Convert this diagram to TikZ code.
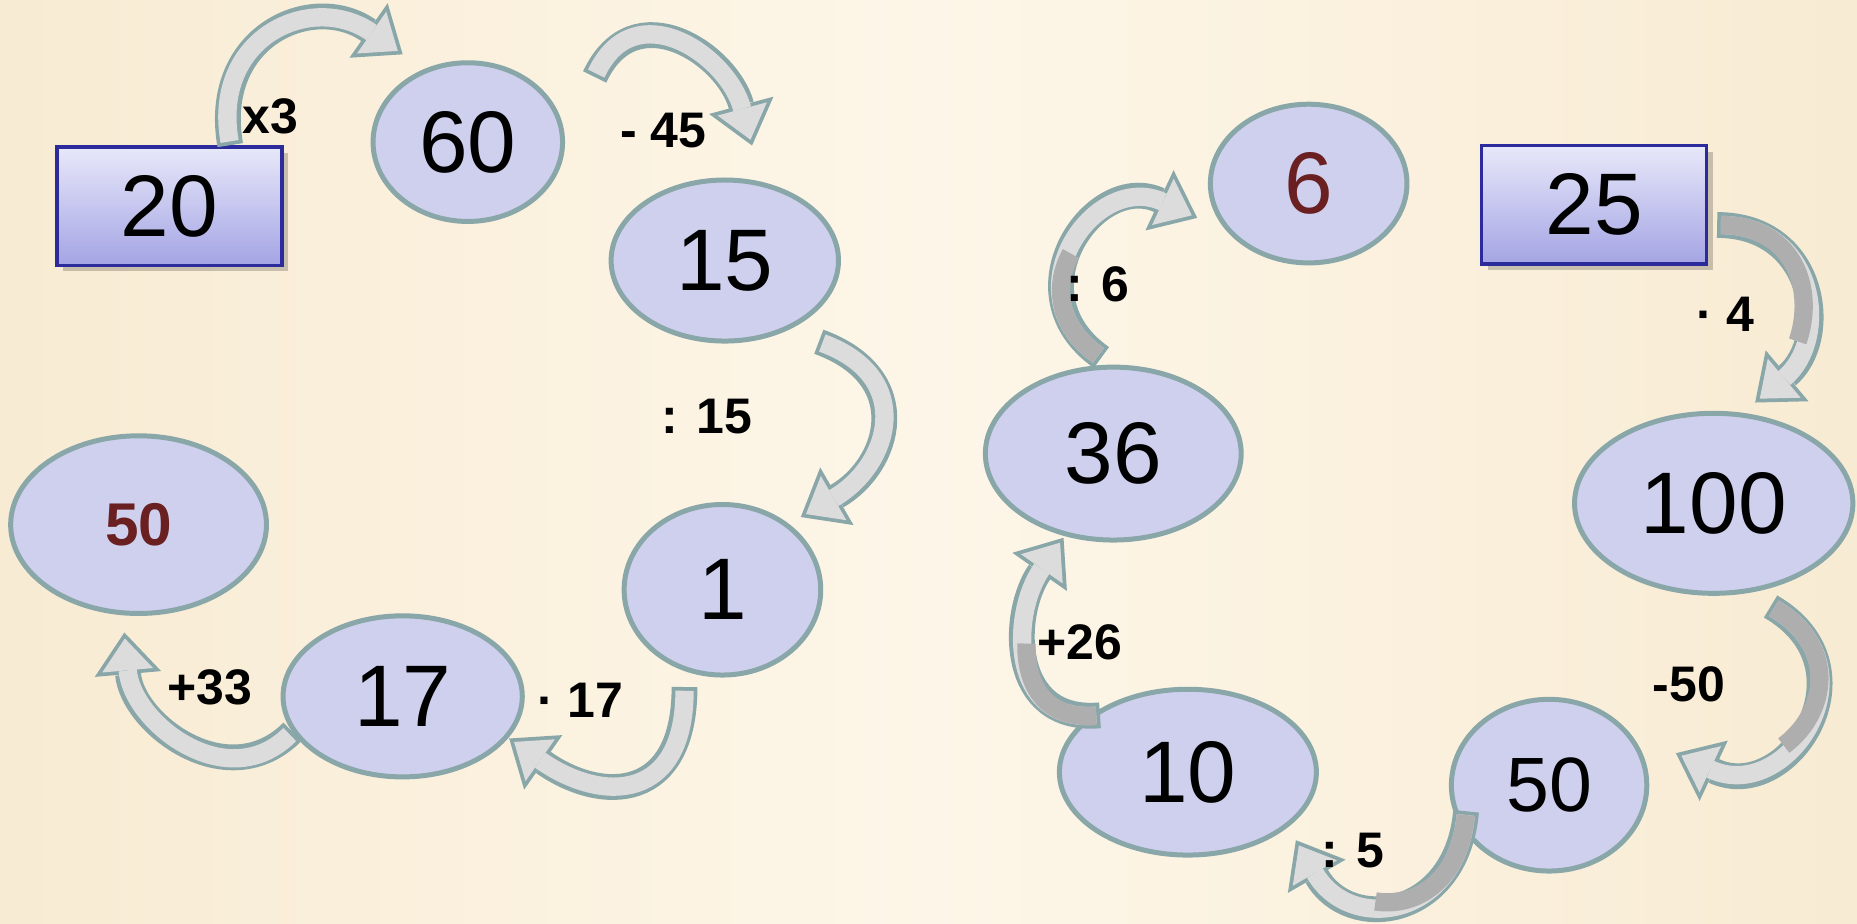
\documentclass[tikz,border=0pt]{standalone}
\usepackage{fontspec}
\setmainfont{Liberation Sans}
\usetikzlibrary{arrows.meta,shapes.geometric,shadows}

\definecolor{bglight}{HTML}{FDF6E8}
\definecolor{bgedge}{HTML}{F8EBD3}
\definecolor{ovalfill}{HTML}{CED0EE}
\definecolor{ovaledge}{HTML}{89A6A8}
\definecolor{boxedge}{HTML}{2B2B9B}
\definecolor{boxtop}{HTML}{E8E8FA}
\definecolor{boxbottom}{HTML}{A4A4E4}
\definecolor{arrowfill}{HTML}{DCDCDC}
\definecolor{arrowdark}{HTML}{AEAEAE}
\definecolor{answer}{HTML}{6A2020}

\tikzset{
  oval/.style={ellipse, draw=ovaledge, line width=1.2pt, fill=ovalfill, inner sep=0pt,
    font=\fontsize{21}{24}\selectfont},
  startbox/.style={rectangle, draw=boxedge, line width=0.8pt, top color=boxtop,
    bottom color=boxbottom, minimum width=1.9cm, minimum height=1cm,
    font=\fontsize{21}{24}\selectfont,
    drop shadow={shadow xshift=0.5mm, shadow yshift=-0.5mm, fill=black, opacity=0.2}},
  oplabel/.style={font=\fontsize{12}{14}\selectfont\bfseries},
  curvarrow/.style={draw=ovaledge, line width=6.2pt,
    -{Triangle[length=10pt, width=16pt, line width=0pt, quick]},
    postaction={draw=arrowfill, line width=4.4pt, shorten <=0.9pt, shorten >=1.44pt,
      -{Triangle[length=7.66pt, width=12.26pt, line width=0pt, quick]}}},
  darktail/.style={postaction={draw=arrowdark, line width=4.4pt, shorten <=0.9pt,
      dash pattern=on #1 off 2000pt, arrows=-}}
}

\begin{document}
\begin{tikzpicture}
    % Background
    \useasboundingbox (0,0) rectangle (15.68,7.80);
    \fill[left color=bgedge, right color=bgedge, middle color=bglight] (0,0) rectangle (15.68,7.80);

    % First chain: 20 -> 50
    \node[startbox] (n20) at (1.43,6.06) {20};
    \node[oval, minimum width=1.60cm, minimum height=1.34cm] (n60) at (3.95,6.60) {60};
    \node[oval, minimum width=1.92cm, minimum height=1.36cm] (n15) at (6.12,5.60) {15};
    \node[oval, minimum width=1.66cm, minimum height=1.44cm] (n1) at (6.10,2.82) {1};
    \node[oval, minimum width=2.02cm, minimum height=1.36cm] (n17) at (3.40,1.92) {17};
    \node[oval, minimum width=2.16cm, minimum height=1.50cm, text=answer,
      font=\fontsize{14.5}{16}\selectfont\bfseries] (res50) at (1.17,3.37) {50};

    % Second chain: 25 -> 6
    \node[startbox] (n25) at (13.46,6.07) {25};
    \node[oval, minimum width=2.35cm, minimum height=1.52cm] (n100) at (14.47,3.55) {100};
    \node[oval, minimum width=1.65cm, minimum height=1.45cm,
      font=\fontsize{18.5}{20}\selectfont] (n50) at (13.08,1.17) {50};
    \node[oval, minimum width=2.17cm, minimum height=1.40cm] (n10) at (10.03,1.28) {10};
    \node[oval, minimum width=2.16cm, minimum height=1.46cm] (n36) at (9.40,3.97) {36};
    \node[oval, minimum width=1.66cm, minimum height=1.34cm, text=answer] (res6) at (11.05,6.25) {6};

    % Curved arrows of the first chain
    \draw[curvarrow] (n20.45) to[out=100, in=145, looseness=1.45] ([shift={(-0.55,0.05)}]n60.north);
    \draw[curvarrow] ([shift={(0.25,0.55)}]n60.east) to[out=65, in=105, looseness=1.4] ([shift={(0.23,0.27)}]n15.north);
    \draw[curvarrow] ([shift={(0.10,-0.19)}]n15.south east) to[out=-20, in=30, looseness=1.5] ([shift={(0.06,0.09)}]n1.north east);
    \draw[curvarrow] ([shift={(-0.32,-0.08)}]n1.south) to[out=-90, in=-35, looseness=1.6] ([shift={(0.17,0.14)}]n17.south east);
    \draw[curvarrow] ([shift={(0.10,-0.30)}]n17.west) to[out=225, in=-85, looseness=1.2] ([shift={(-0.12,-0.14)}]res50.south);

    % Curved arrows of the second chain
    \draw[curvarrow, darktail=40pt] ([shift={(0.075,-0.17)}]n25.east) to[out=0, in=40, looseness=1.4] ([shift={(0.35,0.07)}]n100.north);
    \draw[curvarrow, darktail=40pt] ([shift={(0.48,-0.09)}]n100.south) to[out=-30, in=-25, looseness=1.8] ([shift={(0.225,0.27)}]n50.east);
    \draw[curvarrow, darktail=34pt] ([shift={(0.145,-0.22)}]n50.west) to[out=-95, in=-60, looseness=1.6] ([shift={(0.13,-0.065)}]n10.south east);
    \draw[curvarrow, darktail=28pt] ([shift={(0.04,-0.03)}]n10.north west) to[out=185, in=-125, looseness=1.3] ([shift={(-0.42,0.04)}]n36.south);
    \draw[curvarrow, darktail=28pt] ([shift={(-0.10,0.06)}]n36.north) to[out=145, in=155, looseness=1.7] ([shift={(-0.09,-0.29)}]res6.west);

    % Operation labels
    \node[oplabel] (lx3) at (2.28,6.82) {x3};
    \node[oplabel] (l45) at (5.60,6.70) {- 45};
    \node[oplabel] (l15) at (5.97,4.28) {: 15};
    \node[oplabel] (l17) at (4.90,1.89) {· 17};
    \node[oplabel] (l33) at (1.77,2.00) {+33};
    \node[oplabel] (l4) at (14.57,5.15) {· 4};
    \node[oplabel] (l50) at (14.26,2.02) {-50};
    \node[oplabel] (l5) at (11.42,0.62) {: 5};
    \node[oplabel] (l26) at (9.12,2.38) {+26};
    \node[oplabel] (l6) at (9.27,5.40) {: 6};
\end{tikzpicture}
\end{document}
